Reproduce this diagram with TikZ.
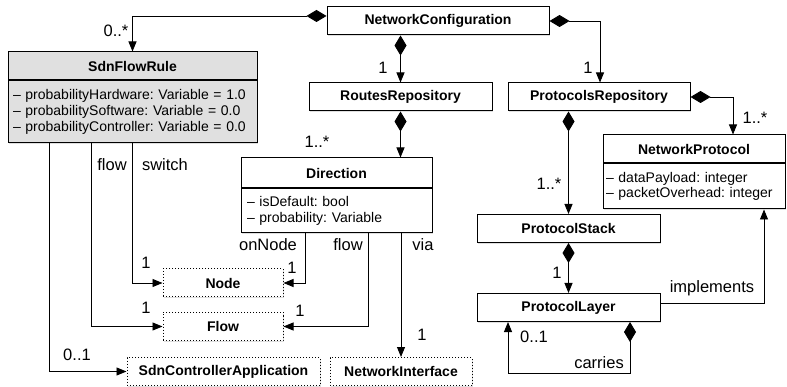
\documentclass[tikz,border=0pt]{standalone}
\usepackage{fontspec}
\setmainfont{Liberation Sans}
\usetikzlibrary{arrows.meta,positioning,shadows}
\definecolor{ruleGray}{RGB}{224,224,224}
\frenchspacing

\begin{document}
\begin{tikzpicture}[x=1pt, y=-1pt]
        \tikzstyle{every node}=[inner sep=0pt, font=\fontsize{14}{16}\selectfont]
        \tikzstyle{box}=[draw, line width=1pt, fill=white, font=\bfseries\fontsize{14}{16}\selectfont, minimum height=28pt, drop shadow={opacity=0.25, shadow xshift=1.2pt, shadow yshift=-1.2pt}]
        \tikzstyle{ghost}=[box, dotted]
        \tikzstyle{attrs}=[box, font=\fontsize{14}{15.5}\selectfont, align=left]
        \tikzstyle{comp}=[line width=0.9pt, {Diamond[length=20pt,width=12pt]}-{Triangle[length=10pt,width=8pt]}]
        \tikzstyle{assoc}=[line width=0.9pt, -{Triangle[length=10pt,width=8pt]}]
        \tikzstyle{lbl}=[font=\fontsize{16.5}{18}\selectfont]
        \useasboundingbox (0,0) rectangle (787,387);
        % classes
        \node [box, minimum width=222pt] (conf) at (438,21) {NetworkConfiguration};
        \node [box, minimum width=183pt] (rrepo) at (400.5,97) {RoutesRepository};
        \node [box, minimum width=182pt] (prepo) at (599,97) {ProtocolsRepository};
        \node [box, minimum width=249pt, fill=ruleGray] (ruleh) at (132.5,66) {SdnFlowRule};
        \node [attrs, fill=ruleGray, below=0pt of ruleh, text width=239pt, inner xsep=5pt, minimum height=62pt, font=\fontsize{14}{16}\selectfont] (ruleb) {\textendash{} probabilityHardware: Variable = 1.0\\\textendash{} probabilitySoftware: Variable = 0.0\\\textendash{} probabilityController: Variable = 0.0};
        \node [box, minimum width=191pt, minimum height=30pt] (dirh) at (336.5,173) {Direction};
        \node [attrs, below=0pt of dirh, text width=179pt, inner xsep=6pt, minimum height=44pt] (dirb) {\textendash{} isDefault: bool\\\textendash{} probability: Variable};
        \node [box, minimum width=182pt] (nph) at (694,149) {NetworkProtocol};
        \node [attrs, below=0pt of nph, text width=176pt, inner xsep=3pt, minimum height=45pt] (npb) {\textendash{} dataPayload: integer\\\textendash{} packetOverhead: integer};
        \node [box, minimum width=183pt] (pstack) at (568.5,228.5) {ProtocolStack};
        \node [box, minimum width=183pt] (player) at (568.5,307.5) {ProtocolLayer};
        \node [ghost, minimum width=120pt] (node) at (223,283) {Node};
        \node [ghost, minimum width=120pt] (flow) at (223,326.5) {Flow};
        \node [ghost, minimum width=193pt] (ctrl) at (223.5,371.5) {SdnControllerApplication};
        \node [ghost, minimum width=142pt] (iface) at (401,371.5) {NetworkInterface};
        % compositions
        \draw [comp] ([yshift=5pt]conf.west) -| (ruleh.north);
        \draw [comp] (conf.east) -| ([xshift=1pt]prepo.north);
        \draw [comp] (conf.south -| rrepo.north) -- (rrepo.north);
        \draw [comp] (rrepo.south) -- (rrepo.south |- dirh.north);
        \draw [comp] (prepo.east) -| ([xshift=39pt]nph.north);
        \draw [comp] (prepo.south -| pstack.north) -- (pstack.north);
        \draw [comp] (pstack.south) -- (player.north);
        \draw [comp] ([xshift=61.5pt]player.south) -- ++(0,51) -| ([xshift=-60.5pt]player.south);
        % associations
        \draw [assoc] (ruleb.south) |- (node.west);
        \draw [assoc] ([xshift=-41.5pt]ruleb.south) |- (flow.west);
        \draw [assoc] ([xshift=-83.5pt]ruleb.south) |- (ctrl.west);
        \draw [assoc] ([xshift=-31.5pt]dirb.south) |- (node.east);
        \draw [assoc] ([xshift=31.5pt]dirb.south) |- (flow.east);
        \draw [assoc] (iface.north |- dirb.south) -- (iface.north);
        \draw [assoc] ([yshift=4pt]player.east) -| ([xshift=70pt]npb.south);
        % labels
        \node [lbl] (m-rule) at (116,31) {0..*};
        \node [lbl] (m-rrepo) at (383,68) {1};
        \node [lbl] (m-prepo) at (588,68) {1};
        \node [lbl] (m-dir) at (317,142) {1..*};
        \node [lbl] (m-np) at (755,118) {1..*};
        \node [lbl] (m-pstack) at (549,184) {1..*};
        \node [lbl] (m-player) at (557,273) {1};
        \node [lbl] (l-impl) at (712,288) {implements};
        \node [lbl] (m-carries) at (534,337) {0..1};
        \node [lbl] (l-carries) at (599,363) {carries};
        \node [lbl] (l-rflow) at (112,165) {flow};
        \node [lbl] (l-switch) at (165,165) {switch};
        \node [lbl] (l-onnode) at (268,245) {onNode};
        \node [lbl] (l-dflow) at (348,245) {flow};
        \node [lbl] (l-via) at (423,245) {via};
        \node [lbl] (m-nodel) at (146,263) {1};
        \node [lbl] (m-noder) at (292,268) {1};
        \node [lbl] (m-flowl) at (146,308) {1};
        \node [lbl] (m-flowr) at (300,311) {1};
        \node [lbl] (m-ctrl) at (77,355) {0..1};
        \node [lbl] (m-iface) at (422,335) {1};
\end{tikzpicture}
\end{document}
